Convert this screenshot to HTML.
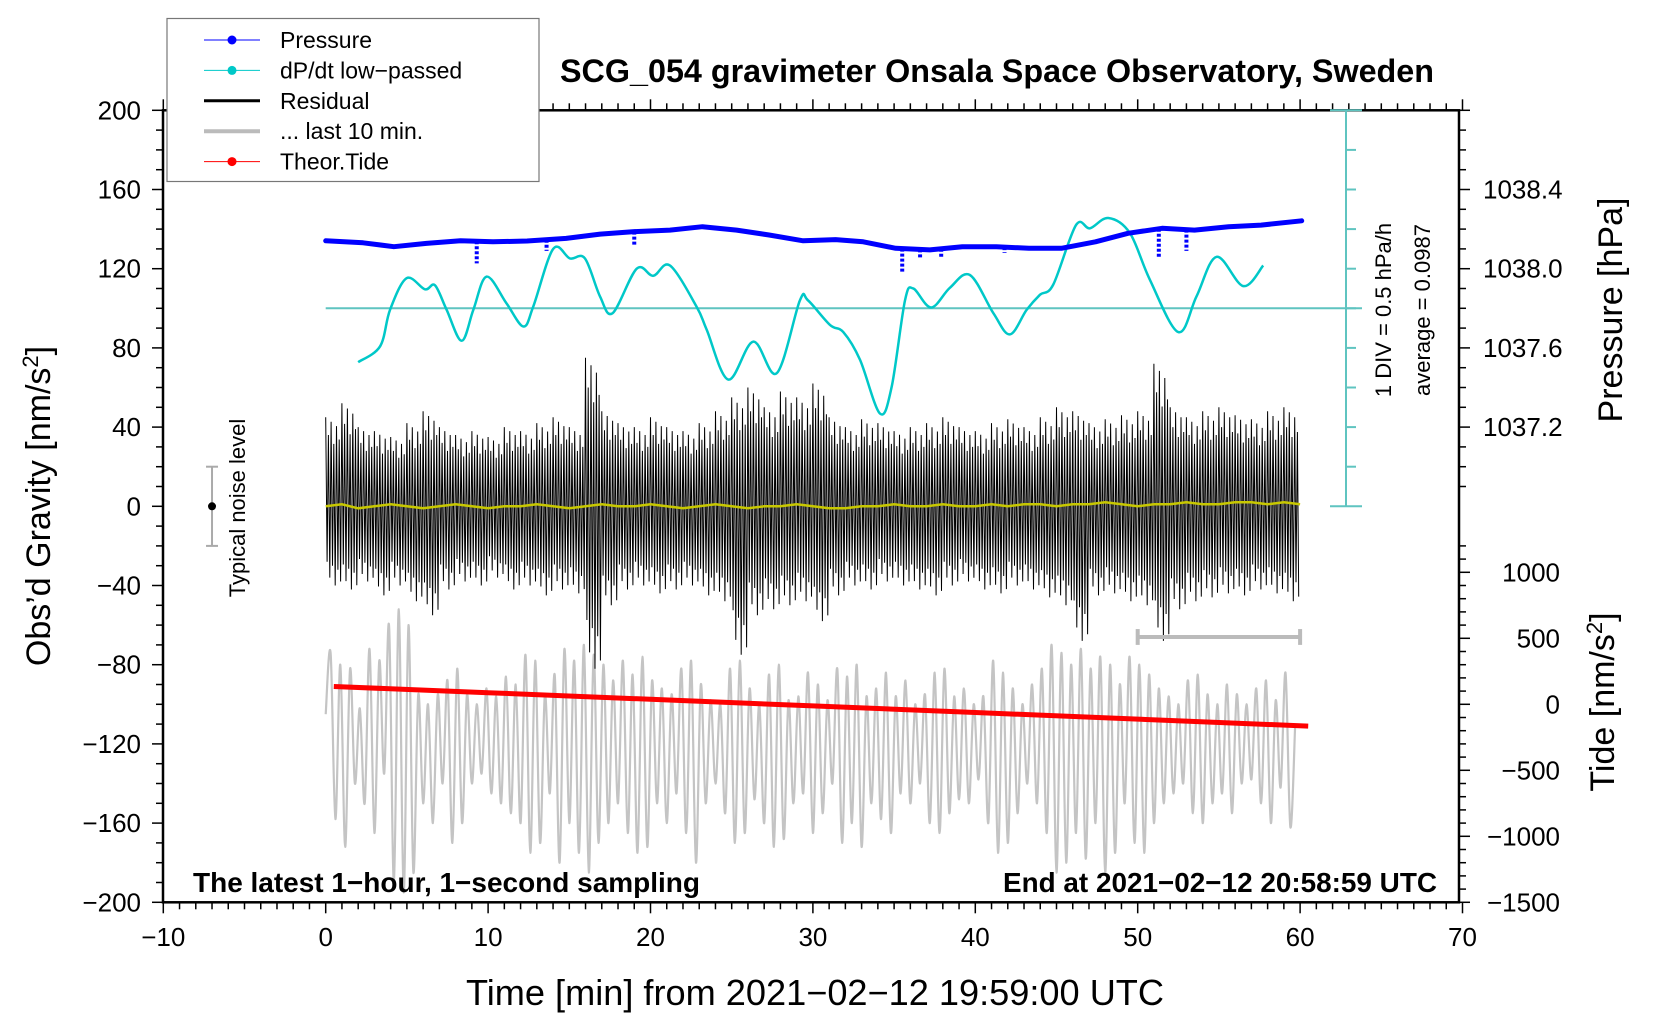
<!DOCTYPE html>
<html><head><meta charset="utf-8"><style>
html,body{margin:0;padding:0;background:#fff}
svg{display:block;font-family:"Liberation Sans",Arial,sans-serif}
</style></head><body>
<svg id="chart" width="1660" height="1020" viewBox="0 0 1660 1020" xmlns="http://www.w3.org/2000/svg">
<g id="marks"></g>
<g id="axes"></g>
</svg>
<script>
// ---- data ----
const xTicks = [-10,0,10,20,30,40,50,60,70];
const yTicks = [200,160,120,80,40,0,-40,-80,-120,-160,-200];
const pTicks = [1038.4,1038.0,1037.6,1037.2];
const tideTicks = [1000,500,0,-500,-1000,-1500];
// pressure [hPa] every ~2 min
const pTime = [0,2.3,4.2,6.2,8.3,10.3,12.4,14.8,16.9,18.9,21.2,23.2,25.3,27.3,29.4,31.4,33.1,35.1,37.2,39.2,41.3,43.3,45.3,47.4,49.4,51.5,53.5,55.6,57.6,60.1];
const pVals = [1038.141,1038.131,1038.111,1038.128,1038.141,1038.136,1038.140,1038.153,1038.175,1038.187,1038.195,1038.212,1038.195,1038.170,1038.141,1038.147,1038.136,1038.103,1038.095,1038.111,1038.111,1038.103,1038.103,1038.136,1038.179,1038.204,1038.195,1038.212,1038.220,1038.242];
const pSpikeT = [9.3,13.6,19.0,35.5,36.6,37.9,41.8,51.3,53.0];
const pSpikeV = [1038.027,1038.090,1038.120,1037.985,1038.050,1038.060,1038.080,1038.060,1038.090];
// dP/dt low-passed [hPa/h]
const dTime = [2.0,3.35,3.96,4.98,6.11,6.73,7.45,8.37,9.09,9.91,11.14,12.17,12.78,14.01,15.04,15.96,16.89,17.67,19.15,20.17,21.2,22.84,23.46,24.79,26.33,27.77,29.2,29.7,31.05,31.87,32.9,34.13,34.85,35.67,36.18,37.28,38.44,39.67,41.11,42.13,43.16,43.98,44.8,46.2,47.06,48.19,49.52,50.75,52.5,53.62,54.86,56.5,57.73];
const dVals = [-0.68,-0.48,-0.02,0.38,0.24,0.29,-0.02,-0.41,-0.02,0.40,0.06,-0.23,0.02,0.75,0.63,0.63,0.15,-0.06,0.50,0.41,0.54,0.02,-0.27,-0.90,-0.42,-0.82,0.10,0.10,-0.21,-0.30,-0.65,-1.33,-0.99,0.10,0.25,0.01,0.26,0.42,-0.06,-0.33,-0.02,0.17,0.30,1.05,1.01,1.14,0.95,0.36,-0.30,0.15,0.65,0.28,0.54];
// residual envelope per minute [nm/s2]
const resMax = [45,52,40,38,35,42,48,40,36,38,35,40,38,42,45,40,75,48,42,40,45,40,38,42,48,55,60,50,58,55,62,45,40,44,42,38,40,42,45,40,38,42,44,40,45,50,48,42,44,46,48,72,50,45,48,50,46,44,48,50,45];
const resMin = [-40,-42,-38,-45,-40,-48,-55,-42,-38,-40,-36,-42,-40,-45,-42,-44,-82,-50,-42,-40,-44,-42,-40,-45,-48,-75,-55,-52,-50,-48,-58,-45,-40,-42,-38,-40,-42,-45,-40,-38,-42,-44,-40,-42,-46,-50,-68,-45,-44,-48,-50,-68,-52,-48,-46,-44,-45,-42,-44,-48,-40];
// low-passed residual (yellow)
const yelVals = [0,1,-1,0,1,0,-1,0,1,0,-1,0,0,1,0,-1,0,1,0,0,1,0,-1,0,1,0,-1,0,0,1,0,-1,-1,0,0,1,0,0,1,0,0,1,0,1,1,0,1,1,2,1,0,1,1,2,1,1,2,2,1,2,1];
// last 10 min (grey), extremes every 0.3 min
const grayVals = [-105,-74,-158,-80,-172,-82,-140,-102,-150,-72,-165,-78,-135,-60,-190,-52,-195,-60,-185,-95,-150,-100,-160,-95,-140,-88,-170,-82,-160,-95,-140,-100,-135,-92,-145,-96,-150,-86,-155,-90,-160,-75,-175,-78,-170,-95,-145,-85,-180,-72,-160,-78,-175,-70,-185,-75,-170,-80,-160,-88,-150,-78,-165,-85,-175,-76,-172,-88,-150,-92,-160,-95,-145,-82,-165,-78,-180,-90,-150,-98,-140,-100,-155,-82,-170,-78,-165,-92,-148,-100,-160,-85,-172,-80,-168,-98,-150,-96,-145,-84,-165,-90,-155,-98,-140,-82,-170,-86,-160,-80,-172,-96,-150,-92,-158,-84,-165,-96,-145,-88,-150,-100,-140,-95,-160,-84,-165,-82,-155,-96,-148,-92,-150,-100,-138,-96,-160,-78,-175,-84,-170,-92,-155,-100,-140,-90,-150,-82,-165,-70,-185,-74,-180,-80,-165,-72,-178,-82,-160,-76,-185,-80,-175,-90,-150,-76,-170,-80,-175,-85,-160,-92,-150,-96,-145,-100,-140,-88,-155,-85,-160,-95,-150,-100,-145,-90,-155,-95,-140,-100,-138,-92,-150,-88,-160,-98,-142,-84,-162,-110];
// theoretical tide [nm/s2]
const tideTime = [0.5,10,20,30,40,50,60.5];
const tideVals = [135,88,38,-12,-62,-112,-165];

// ---- axes functions ----
const X0=325.7, PXM=16.24;
function sx(t){return X0+t*PXM;}
function sy(g){return 902.3-(g+200)*1.98;}
function pToG(p){return 160+(p-1038.4)*100;}
function dToG(d){return 100+d*40;}
function tideToG(v){return -100+v/15;}

const NS='http://www.w3.org/2000/svg';
const marks=document.getElementById('marks');
const axes=document.getElementById('axes');
function mk(tag,attrs,parent){const e=document.createElementNS(NS,tag);for(const k in attrs)e.setAttribute(k,attrs[k]);(parent||marks).appendChild(e);return e;}
function txt(s,attrs,parent){const e=mk('text',attrs,parent);e.textContent=s;return e;}
function smooth(pts){
  let d='M'+pts[0][0].toFixed(1)+' '+pts[0][1].toFixed(1);
  for(let i=0;i<pts.length-1;i++){
    const p0=pts[Math.max(i-1,0)],p1=pts[i],p2=pts[i+1],p3=pts[Math.min(i+2,pts.length-1)];
    const c1=[p1[0]+(p2[0]-p0[0])/6,p1[1]+(p2[1]-p0[1])/6];
    const c2=[p2[0]-(p3[0]-p1[0])/6,p2[1]-(p3[1]-p1[1])/6];
    d+='C'+c1[0].toFixed(1)+' '+c1[1].toFixed(1)+' '+c2[0].toFixed(1)+' '+c2[1].toFixed(1)+' '+p2[0].toFixed(1)+' '+p2[1].toFixed(1);
  }
  return d;
}

// grey last-10-min
const grayLine=mk('path',{d:smooth(grayVals.map((v,i)=>[sx(i*0.3),sy(v)])),fill:'none',stroke:'#c4c4c4','stroke-width':2.2});



// residual (black)
const pat=[1,0.35,0.8,0.5,0.95,0.3,0.7,0.55,0.9,0.4,0.75,0.6];
let rd='';
for(let i=0;i<resMax.length-1;i++){
  for(let k=0;k<pat.length;k++){
    const t=i+k/pat.length;
    const v=(k%2===0)?resMax[i]*pat[k]:resMin[i]*pat[(k+5)%pat.length];
    rd+=(rd?'L':'M')+sx(t).toFixed(1)+' '+sy(v).toFixed(1);
  }
}
const resLine=mk('path',{d:rd,fill:'none',stroke:'#000','stroke-width':1});



// yellow
let yd='';
yelVals.forEach((v,i)=>{yd+=(i?'L':'M')+sx(i).toFixed(1)+' '+sy(v).toFixed(1);});
const yel=mk('path',{d:yd,fill:'none',stroke:'#c8c800','stroke-width':2.5});



// theoretical tide
let td='';
tideVals.forEach((v,i)=>{td+=(i?'L':'M')+sx(tideTime[i]).toFixed(1)+' '+sy(tideToG(v)).toFixed(1);});
const tide=mk('path',{d:td,fill:'none',stroke:'#ff0000','stroke-width':5});



// dP/dt reference line
const ref=mk('line',{x1:sx(0),x2:1362,y1:sy(100),y2:sy(100),stroke:'#5fc4c0','stroke-width':2});


const dline=mk('path',{d:smooth(dVals.map((v,i)=>[sx(dTime[i]),sy(dToG(v))])),fill:'none',stroke:'#00c8c8','stroke-width':2.5});



// pressure
let pd='';
pVals.forEach((v,i)=>{pd+=(i?'L':'M')+sx(pTime[i]).toFixed(1)+' '+sy(pToG(v)).toFixed(1);});
const pl=mk('path',{d:pd,fill:'none',stroke:'#0000ff','stroke-width':5,'stroke-linejoin':'round','stroke-linecap':'round'});


pSpikeT.forEach((t,i)=>{
  let base=pVals[0];
  for(let j=0;j<pTime.length-1;j++){if(t>=pTime[j]&&t<=pTime[j+1]){const f=(t-pTime[j])/(pTime[j+1]-pTime[j]);base=pVals[j]+f*(pVals[j+1]-pVals[j]);}}
  const s=mk('line',{x1:sx(t),x2:sx(t),y1:sy(pToG(base)),y2:sy(pToG(pSpikeV[i])),stroke:'#0000ff','stroke-width':4,'stroke-dasharray':'3 2'});
  
  
});

// ---- axes ----
const A=axes;
const frame=mk('rect',{x:163,y:110.3,width:1296,height:792,fill:'none',stroke:'#000','stroke-width':2.5},A);


for(let t=-10;t<=70;t++){
  const maj=t%10===0, L=maj?11:7;
  mk('line',{x1:sx(t),x2:sx(t),y1:902.3,y2:902.3+L,stroke:'#000','stroke-width':1.5},A);
  mk('line',{x1:sx(t),x2:sx(t),y1:110.3,y2:110.3-L,stroke:'#000','stroke-width':1.5},A);
}
xTicks.forEach(t=>{
  const e=txt(String(t).replace('-','\u2212'),{x:sx(t),y:946,'font-size':26,'text-anchor':'middle'},A);
  
  
});
for(let g=-200;g<=200;g+=10){
  const maj=g%40===0;
  mk('line',{x1:163,x2:163-(maj?11:7),y1:sy(g),y2:sy(g),stroke:'#000','stroke-width':1.5},A);
}
yTicks.forEach(g=>{
  const e=txt(String(g).replace('-','\u2212'),{x:141,y:sy(g)+9,'font-size':26,'text-anchor':'end'},A);
  
  
});
for(let g=10;g<=200;g+=10){
  const maj=(g-160)%40===0;
  mk('line',{x1:1459,x2:1459+(maj?11:7),y1:sy(g),y2:sy(g),stroke:'#000','stroke-width':1.5},A);
}
pTicks.forEach(p=>{
  const e=txt(p.toFixed(1),{x:1483,y:sy(pToG(p))+9,'font-size':26},A);
  
  
});
for(let v=-1500;v<=1200;v+=100){
  const maj=v%500===0;
  mk('line',{x1:1459,x2:1459+(maj?11:7),y1:sy(tideToG(v)),y2:sy(tideToG(v)),stroke:'#000','stroke-width':1.5},A);
}
tideTicks.forEach(v=>{
  const e=txt(String(v).replace('-','\u2212'),{x:1560,y:sy(tideToG(v))+9,'font-size':26,'text-anchor':'end'},A);
  
  
});
mk('line',{x1:1346,x2:1346,y1:110.3,y2:sy(0),stroke:'#5fc4c0','stroke-width':2},A);
for(let g=0;g<=200;g+=20){
  const end=(g===0||g===200);
  mk('line',{x1:end?1330:1346,x2:end?1362:1356,y1:sy(g),y2:sy(g),stroke:'#5fc4c0','stroke-width':2},A);
}
let e;
e=txt('1 DIV = 0.5 hPa/h',{x:0,y:0,'font-size':22,'text-anchor':'middle',transform:'translate(1391,310) rotate(-90)'},A);

e=txt('average = 0.0987',{x:0,y:0,'font-size':22,'text-anchor':'middle',transform:'translate(1430,310) rotate(-90)'},A);


mk('line',{x1:sx(-7),x2:sx(-7),y1:sy(20),y2:sy(-20),stroke:'#aaa','stroke-width':2},A);
mk('line',{x1:sx(-7)-6,x2:sx(-7)+6,y1:sy(20),y2:sy(20),stroke:'#aaa','stroke-width':2},A);
mk('line',{x1:sx(-7)-6,x2:sx(-7)+6,y1:sy(-20),y2:sy(-20),stroke:'#aaa','stroke-width':2},A);
mk('circle',{cx:sx(-7),cy:sy(0),r:4,fill:'#000'},A);
e=txt('Typical noise level',{x:0,y:0,'font-size':22,'text-anchor':'middle',transform:'translate(245,508) rotate(-90)'},A);


mk('line',{x1:sx(50),x2:sx(60),y1:sy(-66),y2:sy(-66),stroke:'#bbb','stroke-width':4},A);
mk('line',{x1:sx(50),x2:sx(50),y1:sy(-62),y2:sy(-70),stroke:'#bbb','stroke-width':4},A);
mk('line',{x1:sx(60),x2:sx(60),y1:sy(-62),y2:sy(-70),stroke:'#bbb','stroke-width':4},A);

e=txt('SCG_054 gravimeter Onsala Space Observatory, Sweden',{x:997,y:82,'font-size':32,'font-weight':'bold','text-anchor':'middle',textLength:874,lengthAdjust:'spacingAndGlyphs'},A);

e=txt('The latest 1\u2212hour, 1\u2212second sampling',{x:193,y:892,'font-size':28,'font-weight':'bold',textLength:507,lengthAdjust:'spacingAndGlyphs'},A);

e=txt('End at 2021\u221202\u221212 20:58:59 UTC',{x:1003,y:892,'font-size':28,'font-weight':'bold',textLength:434,lengthAdjust:'spacingAndGlyphs'},A);

e=txt('Time [min] from 2021\u221202\u221212 19:59:00 UTC',{x:466,y:1005,'font-size':36,textLength:698,lengthAdjust:'spacingAndGlyphs'},A);

e=mk('text',{x:0,y:0,'font-size':34,'text-anchor':'middle',transform:'translate(50,506) rotate(-90)'},A);
e.innerHTML='Obs\u2019d Gravity [nm/s<tspan dy="-12" font-size="22">2</tspan><tspan dy="12">]</tspan>';

e=txt('Pressure [hPa]',{x:0,y:0,'font-size':34,'text-anchor':'middle',transform:'translate(1622,310) rotate(-90)'},A);

e=mk('text',{x:0,y:0,'font-size':34,'text-anchor':'middle',transform:'translate(1614,702) rotate(-90)'},A);
e.innerHTML='Tide [nm/s<tspan dy="-12" font-size="22">2</tspan><tspan dy="12">]</tspan>';


const lg=mk('g',{},A);


mk('rect',{x:167,y:18.5,width:372,height:163,fill:'#fff',stroke:'#777','stroke-width':1.2},lg);
const legItems=[['Pressure','#0000ff',1,true],['dP/dt low\u2212passed','#00c8c8',1,true],['Residual','#000',3,false],['... last 10 min.','#bbb',4,false],['Theor.Tide','#ff0000',1,true]];
legItems.forEach((it,i)=>{
  const y=40+i*30.4;
  const g=mk('g',{},lg);
  
  
  mk('line',{x1:204,x2:260,y1:y,y2:y,stroke:it[1],'stroke-width':it[2]},g);
  if(it[3])mk('circle',{cx:232,cy:y,r:4.5,fill:it[1]},g);
  txt(it[0],{x:280,y:y+8,'font-size':23},g);
});
</script>
</body></html>
